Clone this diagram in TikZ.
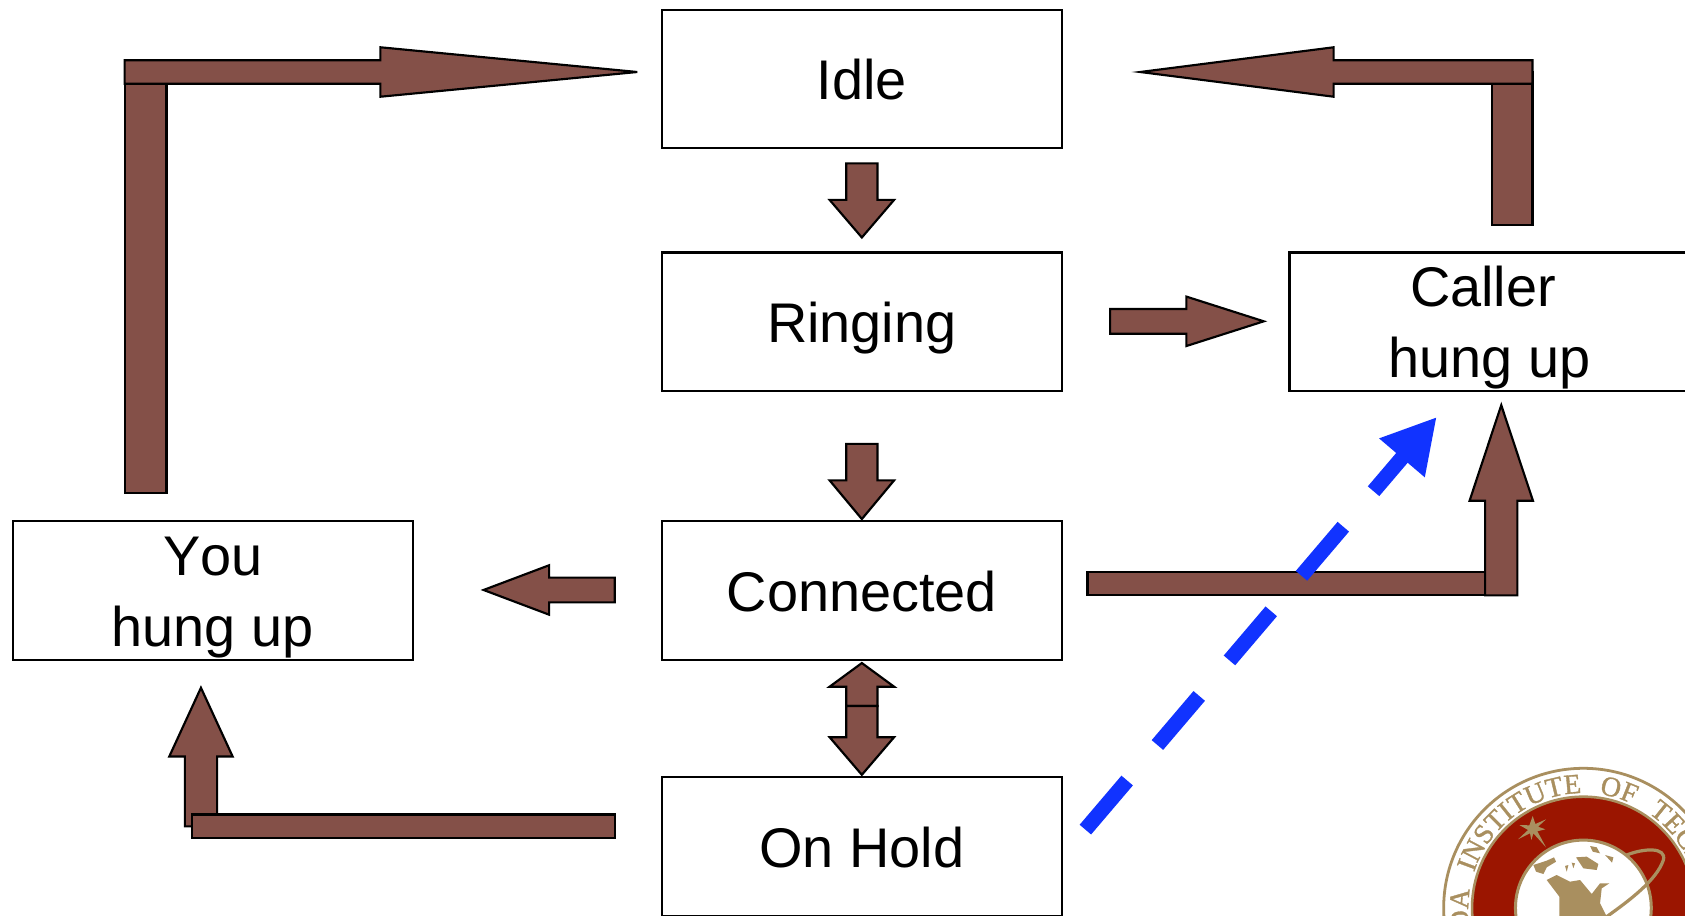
\documentclass[tikz,border=0pt]{standalone}
\usepackage{fontspec}
\setmainfont[Kerning=Off]{Liberation Sans}
\newfontfamily\logoserif[WordSpace=2.5,FakeBold=1.2]{Liberation Serif}
\usetikzlibrary{calc,arrows.meta,decorations.text}
\definecolor{blockbrown}{HTML}{845048}
\definecolor{dashblue}{HTML}{1133FF}
\definecolor{logogold}{HTML}{A98F5F}
\definecolor{logored}{HTML}{9B1500}
\tikzset{
  statebox/.style={draw=black,fill=white,line width=1pt,inner sep=0pt,minimum width=186pt,minimum height=64.5pt,font=\fontsize{26pt}{31pt}\selectfont},
  blockstyle/.style={draw=black,fill=blockbrown,line width=1pt},
  bluedash/.style={draw=dashblue,line width=7pt,dash pattern=on 30pt off 21.7pt},
  goldfill/.style={fill=logogold,draw=none},
}
\newcommand\boxline[2]{\makebox[0pt]{\raisebox{#1}[0pt][0pt]{#2}}}
% from, tip, shaft half width, head half width, head length (in picture units)
\newcommand\blockarrow[5]{%
  \path ($(#2)!#5*0.5pt!(#1)$) coordinate (hb);
  \draw[blockstyle] ($(#1)!#3*0.5pt!90:(#2)$) -- ($(hb)!#3*0.5pt!90:(#2)$) -- ($(hb)!#4*0.5pt!90:(#2)$) -- (#2)
    -- ($(hb)!#4*0.5pt!-90:(#2)$) -- ($(hb)!#3*0.5pt!-90:(#2)$) -- ($(#1)!#3*0.5pt!-90:(#2)$) -- cycle;
}
\begin{document}
\begin{tikzpicture}[x=0.5pt,y=-0.5pt]
\clip (0,0) rectangle (1568,851.5);
\fill[white] (0,0) rectangle (1568,851.5);

% state boxes
\node[statebox] (idle) at (802,73.5) {\boxline{-9.7pt}{Idle}};
\node[statebox] (ringing) at (802,299.5) {\boxline{-9.7pt}{Ringing}};
\node[statebox] (connected) at (802,549.5) {\boxline{-9.7pt}{Connected}};
\node[statebox] (onhold) at (802,787.5) {\boxline{-9.7pt}{On Hold}};
\node[statebox] (you) at (198,549.5) {\boxline{7pt}{You}\boxline{-26pt}{hung up}};
\node[statebox] (caller) at (1386,299.5) {\boxline{7pt}{Caller\hspace*{6pt}}\boxline{-26pt}{hung up}};

% connector end points
\coordinate (youBarA) at (116,67);
\coordinate (youBarB) at (155,459);
\coordinate (youHeadS) at (116,67);
\coordinate (youHeadT) at (593,67);
\coordinate (callBarA) at (1388,67);
\coordinate (callBarB) at (1426,209.5);
\coordinate (callHeadS) at (1426,67);
\coordinate (callHeadT) at (1061,67);
\coordinate (irS) at (802,152);
\coordinate (irT) at (802,221);
\coordinate (rcS) at (802,413);
\coordinate (rcT) at (802,483);
\coordinate (rchS) at (1033,299);
\coordinate (rchT) at (1176,299);
\coordinate (cyS) at (572,549);
\coordinate (cyT) at (450,549);
\coordinate (chMid) at (802,657);
\coordinate (chDown) at (802,721);
\coordinate (chUp) at (802,617);
\coordinate (ccA) at (1012,532);
\coordinate (ccB) at (1397,554);
\coordinate (ccS) at (1397,554);
\coordinate (ccT) at (1397,377);
\coordinate (hyS) at (187,769);
\coordinate (hyT) at (187,640);
\coordinate (hyA) at (179,758);
\coordinate (hyB) at (572,780);
\coordinate (dashS) at (1010,772);
\coordinate (dashT) at (1337,388);

% elbow: You hung up -> Idle
\draw[blockstyle] (youBarA) rectangle (youBarB);
\blockarrow{youHeadS}{youHeadT}{11}{23}{239}
% elbow: Caller hung up -> Idle
\draw[blockstyle] (callBarA) rectangle (callBarB);
\blockarrow{callHeadS}{callHeadT}{11}{23}{180}
% straight
\blockarrow{irS}{irT}{14.5}{30}{35}
\blockarrow{rcS}{rcT}{14.5}{30}{36}
\blockarrow{rchS}{rchT}{11.5}{23}{72}
\blockarrow{cyS}{cyT}{11.5}{23}{61}
% Connected <-> On Hold
\blockarrow{chMid}{chUp}{14.5}{30}{22}
\blockarrow{chMid}{chDown}{14.5}{30}{35}
% elbow: Connected -> Caller
\draw[blockstyle] (ccA) rectangle (ccB);
\blockarrow{ccS}{ccT}{15}{29.5}{89}
% elbow: On Hold -> You
\blockarrow{hyS}{hyT}{15}{29.5}{64}
\draw[blockstyle] (hyA) rectangle (hyB);
% dashed blue
\draw[bluedash,-{Triangle[length=25pt,width=26pt]}] (dashS) -- (dashT);

% logo
\begin{scope}[shift={(1302.8,688.6)},x=0.1551pt,y=-0.1551pt]
  \coordinate (logoc) at (550,504);
  \draw[logogold,line width=1.3pt,fill=white] (logoc) circle[radius=65pt];
  \draw[logogold,line width=1.2pt,fill=logored] (logoc) circle[radius=51.8pt];
  \draw[logogold,line width=1.4pt,fill=white] (logoc) circle[radius=31.6pt];
  % orbit
  \draw[logogold,line width=1.5pt,line cap=round] (680,345) .. controls (730,325) and (800,320) .. (790,360) .. controls (770,420) and (690,480) .. (620,530);
  % star
  \fill[logogold] (398,228) -- (406,252) -- (438,238) -- (414,260) -- (436,268) -- (412,274) -- (438,322) -- (400,280) -- (394,300) -- (390,280) -- (354,298) -- (384,270) -- (358,255) -- (388,256) -- cycle;
  % continents
  \path[goldfill] (400,375) -- (440,362) -- (462,352) -- (468,365) -- (440,382) -- (430,402) -- (408,395) -- cycle;
  \path[goldfill] (440,420) -- (470,405) -- (510,425) -- (540,420) -- (575,462) -- (600,430) -- (628,430) -- (605,445) -- (600,490) -- (620,530) -- (478,530) -- (478,470) -- cycle;
  \path[goldfill] (528,352) -- (560,350) -- (595,372) -- (590,390) -- (550,385) -- cycle;
  \path[goldfill] (570,318) -- (590,322) -- (600,340) -- (578,335) -- cycle;
  \path[goldfill] (615,345) -- (640,352) -- (636,368) -- cycle;
  \path[goldfill] (495,378) -- (505,375) -- (500,395) -- cycle;
  \path[goldfill] (515,368) -- (525,370) -- (520,385) -- cycle;
\end{scope}
\path[decorate,decoration={text along path,text align={left},
   text={|\fontsize{13pt}{13pt}\logoserif\color{logogold}|FLORIDA INSTITUTE OF TECHNOLOGY}}]
   ($(logoc)+(231:53.5pt)$) arc[start angle=231,end angle=-100,radius=53.5pt];
\end{tikzpicture}
\end{document}
